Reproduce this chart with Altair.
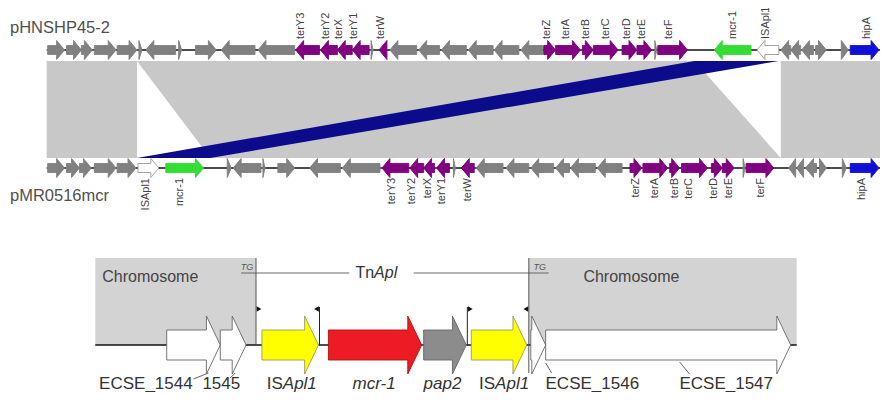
import altair as alt
import pandas as pd

# ---------------- upper comparison: plasmid maps (map units) ----------------
top_name = "pHNSHP45-2"
bot_name = "pMR0516mcr"

top_start = [48, 67, 82, 95, 118, 140, 147, 180, 197, 223, 260, 298, 323, 340, 355, 374, 382,
             393, 422, 445, 472, 498, 525, 548, 560, 587, 598, 627, 642, 660, 663, 720, 763,
             787, 797, 808, 822, 848, 857]
top_end = [65, 82, 93, 117, 138, 143, 177, 183, 218, 257, 297, 322, 340, 355, 372, 376, 390,
           420, 443, 470, 497, 523, 547, 560, 585, 598, 623, 642, 657, 662, 693, 757, 785,
           797, 807, 820, 833, 855, 886]
top_strand = [1, 1, 1, 1, 1, 1, -1, 1, 1, -1, -1, -1, -1, -1, -1, 1, -1,
              -1, -1, -1, -1, -1, -1, 1, 1, 1, 1, 1, 1, 1, 1, -1, -1,
              -1, -1, -1, 1, 1, 1]
top_type = (["o"] * 11 + ["ter"] * 4 + ["o", "ter"] + ["o"] * 6 + ["ter"] * 6
            + ["o", "ter", "mcr", "is"] + ["o"] * 5 + ["hip"])
top_labels = ["terY3", "terY2", "terX", "terY1", "terW", "terZ", "terA", "terB", "terC",
              "terD", "terE", "terF", "mcr-1", "ISApl1", "hipA"]
top_label_pos = [303, 329, 342, 357, 384, 551, 570, 591, 611, 632, 647, 674, 739, 772, 874]

bot_start = [48, 67, 80, 95, 118, 139, 167, 229, 235, 265, 280, 312, 345, 385, 413, 427, 440,
             457, 465, 480, 510, 535, 560, 575, 602, 635, 648, 675, 687, 717, 728, 749, 752,
             795, 803, 812, 826, 849, 857]
bot_end = [65, 80, 92, 117, 137, 160, 205, 233, 263, 267, 297, 343, 383, 412, 427, 438, 453,
           459, 478, 507, 533, 558, 574, 600, 627, 647, 673, 685, 713, 728, 740, 751, 780,
           802, 810, 823, 833, 853, 886]
bot_strand = [1, 1, 1, 1, 1, 1, 1, 1, -1, 1, 1, -1, -1, -1, -1, -1, -1,
              1, -1, -1, -1, -1, -1, -1, -1, 1, 1, 1, 1, 1, 1, 1, 1,
              -1, -1, -1, 1, 1, 1]
bot_type = (["o"] * 5 + ["is", "mcr"] + ["o"] * 6 + ["ter"] * 4 + ["o", "ter"] + ["o"] * 6
            + ["ter"] * 6 + ["o", "ter"] + ["o"] * 5 + ["hip"])
bot_labels = ["ISApl1", "mcr-1", "terY3", "terY2", "terX", "terY1", "terW", "terZ", "terA",
              "terB", "terC", "terD", "terE", "terF", "hipA"]
bot_label_pos = [147, 181, 395, 415, 431, 445, 472, 641, 660, 680, 694, 720, 735, 767, 869]

# homologous blocks: (top from, top to) -> (bottom from, bottom to)
blk_top_a = [47, 138, 700, 787]
blk_top_b = [138, 700, 785, 888]
blk_bot_a = [47, 212, 212, 787]
blk_bot_b = [138, 787, 138, 888]
blk_kind = ["same", "same", "inverted", "same"]

# ---------------- lower schematic: TnApl insertion ----------------
chrom_start = [96, 533]
chrom_end = [258, 803]
ins_names = ["ECSE_1544", "ECSE_1545", "ISApl1", "mcr-1", "pap2", "ISApl1", "ECSE_1546", "ECSE_1547"]
ins_start = [168, 222, 264, 331, 427, 475, 535, 550]
ins_end = [222, 248, 321, 425, 470, 531, 550, 797]
ins_kind = ["chrom", "chrom", "is", "mcr", "pap", "is", "chrom", "chrom"]
ir_pos = [258, 322, 471, 533]
ir_dir = [1, -1, 1, -1]

# ---------------- styling / layout constants ----------------
W, H = 872, 384
Y_TOP, Y_BOT, Y_INS = 50, 168, 345
BAND_T, BAND_B = 61, 158
FILL = {"o": "#808080", "ter": "#800080", "mcr": "#33dd33", "is": "#ffffff", "hip": "#1010d8"}
FONT = "Liberation Sans"
EPS = 0.01

xs = alt.Scale(domain=[8, 887], nice=False, zero=False)
ys = alt.Scale(domain=[8, 8 + H], nice=False, zero=False, reverse=True)


def X(f, **kw):
    return alt.X(f, type="quantitative", scale=xs, axis=None, **kw)


def Y(f, **kw):
    return alt.Y(f, type="quantitative", scale=ys, axis=None, **kw)


def arrow_rows(gid, s, e, strand, yc, bh, hh, hl, fill, stroke):
    h = min(hl, e - s)
    if strand > 0:
        pts = [(s, yc - bh, yc + bh), (e - h, yc - bh, yc + bh),
               (e - h + EPS, yc - hh, yc + hh), (e, yc, yc)]
    else:
        pts = [(s, yc, yc), (s + h - EPS, yc - hh, yc + hh),
               (s + h, yc - bh, yc + bh), (e, yc - bh, yc + bh)]
    if pts[0][0] >= pts[1][0]:
        pts = pts[1:] if strand > 0 else [pts[0], pts[1]] + pts[3:]
    return [dict(gid=gid, x=p[0], y=p[1], y2=p[2], fill=fill, stroke=stroke) for p in pts]


rows = []
for i, (s, e, st, t) in enumerate(zip(top_start, top_end, top_strand, top_type)):
    rows += arrow_rows(f"t{i}", s, e, st, Y_TOP, 4.5, 9.5, 8, FILL[t], "#999999" if t == "is" else FILL[t])
for i, (s, e, st, t) in enumerate(zip(bot_start, bot_end, bot_strand, bot_type)):
    rows += arrow_rows(f"b{i}", s, e, st, Y_BOT, 4.5, 9.5, 8, FILL[t], "#999999" if t == "is" else FILL[t])
ins_fill = {"chrom": "#ffffff", "is": "#ffff00", "mcr": "#ed1c24", "pap": "#8c8c8c"}
ins_stroke = {"chrom": "#666666", "is": "#9a9a60", "mcr": "#b01010", "pap": "#666666"}
for i, (s, e, k) in enumerate(zip(ins_start, ins_end, ins_kind)):
    rows += arrow_rows(f"i{i}", s, e, 1, Y_INS, 15, 29, 14, ins_fill[k], ins_stroke[k])
arrows_df = pd.DataFrame(rows)

band_rows = []
for i, (ta, tb, ba, bb, kd) in enumerate(zip(blk_top_a, blk_top_b, blk_bot_a, blk_bot_b, blk_kind)):
    col = "#0b0b8c" if kd == "inverted" else "#c8c8c8"
    if kd == "inverted":
        band_rows.append(dict(poly=f"p{i}", y=BAND_T, x=tb, x2=ta, fill=col))
        band_rows.append(dict(poly=f"p{i}", y=BAND_B, x=ba, x2=bb, fill=col))
    else:
        band_rows.append(dict(poly=f"p{i}", y=BAND_T, x=ta, x2=tb, fill=col))
        band_rows.append(dict(poly=f"p{i}", y=BAND_B, x=ba, x2=bb, fill=col))
band_df = pd.DataFrame(band_rows)

band = alt.Chart(band_df).mark_area(orient="horizontal").encode(
    y=Y("y"), x=X("x", stack=None), x2="x2", detail="poly:N",
    fill=alt.Fill("fill:N", scale=None))

backbone_df = pd.DataFrame([
    dict(x=min(top_start) - 1, x2=max(top_end) + 1, y=Y_TOP),
    dict(x=min(bot_start) - 1, x2=max(bot_end) + 1, y=Y_BOT),
    dict(x=chrom_start[0], x2=chrom_end[-1], y=Y_INS),
])
backbone = alt.Chart(backbone_df).mark_rule(strokeWidth=1.5, color="#111111").encode(
    x=X("x"), x2="x2", y=Y("y"))

chrom_df = pd.DataFrame(dict(x=chrom_start, x2=chrom_end, y=[258, 258], y2=[Y_INS, Y_INS]))
chrom = alt.Chart(chrom_df).mark_rect(color="#d3d3d3").encode(x=X("x"), x2="x2", y=Y("y"), y2="y2")

arrows = alt.Chart(arrows_df).mark_area(orient="vertical", strokeWidth=0.9).encode(
    x=X("x"), y=Y("y", stack=None), y2="y2", detail="gid:N",
    fill=alt.Fill("fill:N", scale=None), stroke=alt.Stroke("stroke:N", scale=None))

# gene labels on plasmid maps
tl = pd.DataFrame(dict(x=top_label_pos, y=[39] * len(top_labels), t=top_labels))
bl = pd.DataFrame(dict(x=bot_label_pos, y=[178] * len(bot_labels), t=bot_labels))
top_lab = alt.Chart(tl).mark_text(angle=270, align="left", baseline="middle", fontSize=11,
                                  font=FONT, color="#444444").encode(x=X("x"), y=Y("y"), text="t:N")
bot_lab = alt.Chart(bl).mark_text(angle=270, align="right", baseline="middle", fontSize=11,
                                  font=FONT, color="#444444").encode(x=X("x"), y=Y("y"), text="t:N")

names_df = pd.DataFrame(dict(x=[10, 10], y=[33, 201], t=[top_name, bot_name]))
names = alt.Chart(names_df).mark_text(align="left", baseline="alphabetic", fontSize=16.5, font=FONT,
                                      color="#505050").encode(x=X("x"), y=Y("y"), text="t:N")

# lower schematic lines
vlines_df = pd.DataFrame(dict(x=[258, 533, 322, 471], y=[258, 258, 307, 307], y2=[Y_INS, 373, Y_INS, Y_INS],
                              c=["#555555", "#555555", "#222222", "#222222"]))
vlines = alt.Chart(vlines_df).mark_rule(strokeWidth=1).encode(
    x=X("x"), y=Y("y"), y2="y2", color=alt.Color("c:N", scale=None))

tn_df = pd.DataFrame(dict(x=[243, 417], x2=[352, 553], y=[273, 273]))
tn_line = alt.Chart(tn_df).mark_rule(strokeWidth=1, color="#666666").encode(x=X("x"), x2="x2", y=Y("y"))

flag_df = pd.DataFrame(dict(x=ir_pos, d=ir_dir, y=[309] * 4))
flag_r = alt.Chart(flag_df[flag_df.d > 0]).mark_point(shape="triangle-right", filled=True, size=30,
                                                       color="#111111", opacity=1, xOffset=3).encode(x=X("x"), y=Y("y"))
flag_l = alt.Chart(flag_df[flag_df.d < 0]).mark_point(shape="triangle-left", filled=True, size=30,
                                                       color="#111111", opacity=1, xOffset=-3).encode(x=X("x"), y=Y("y"))

lead_df = pd.DataFrame(dict(x=[210, 237, 550, 685], y=[373, 373, 363, 362], x2=[195, 232, 556, 695], y2=[379, 378, 373, 374]))
leaders = alt.Chart(lead_df).mark_rule(strokeWidth=1, color="#666666").encode(x=X("x"), y=Y("y"), x2="x2", y2="y2")

# lower schematic texts
chrom_txt_df = pd.DataFrame(dict(x=[103, 588], y=[277, 277], t=["Chromosome", "Chromosome"]))
chrom_txt = alt.Chart(chrom_txt_df).mark_text(align="left", baseline="middle", fontSize=16, font=FONT,
                                              color="#444444").encode(x=X("x"), y=Y("y"), text="t:N")
tg_df = pd.DataFrame(dict(x=[249, 544], y=[270, 270], t=["TG", "TG"]))
tg_txt = alt.Chart(tg_df).mark_text(align="center", baseline="alphabetic", fontSize=9, fontStyle="italic",
                                    font=FONT, color="#555555").encode(x=X("x"), y=Y("y"), text="t:N")
tn_a = alt.Chart(pd.DataFrame(dict(x=[377], y=[273], t=["Tn"]))).mark_text(
    align="right", baseline="middle", fontSize=16, font=FONT, color="#333333").encode(x=X("x"), y=Y("y"), text="t:N")
tn_b = alt.Chart(pd.DataFrame(dict(x=[377], y=[273], t=["Apl"]))).mark_text(
    align="left", baseline="middle", fontSize=16, fontStyle="italic", font=FONT, color="#333333").encode(
    x=X("x"), y=Y("y"), text="t:N")

LAB_Y = 389
lab_plain = pd.DataFrame(dict(x=[147, 223, 597, 732], y=[LAB_Y] * 4, t=["ECSE_1544", "1545", "ECSE_1546", "ECSE_1547"]))
lab_is = pd.DataFrame(dict(x=[285, 499], y=[LAB_Y] * 2, t=["IS", "IS"]))
lab_apl = pd.DataFrame(dict(x=[285, 499], y=[LAB_Y] * 2, t=["Apl1", "Apl1"]))
lab_it = pd.DataFrame(dict(x=[377, 446], y=[LAB_Y] * 2, t=["mcr-1", "pap2"]))
kw = dict(baseline="alphabetic", fontSize=17, font=FONT, color="#333333")
l1 = alt.Chart(lab_plain).mark_text(align="center", **kw).encode(x=X("x"), y=Y("y"), text="t:N")
l2 = alt.Chart(lab_is).mark_text(align="right", **kw).encode(x=X("x"), y=Y("y"), text="t:N")
l3 = alt.Chart(lab_apl).mark_text(align="left", fontStyle="italic", **kw).encode(x=X("x"), y=Y("y"), text="t:N")
l4 = alt.Chart(lab_it).mark_text(align="center", fontStyle="italic", **kw).encode(x=X("x"), y=Y("y"), text="t:N")

chart = alt.layer(
    band, chrom, backbone, tn_line, vlines, arrows, flag_r, flag_l, leaders,
    top_lab, bot_lab, names, chrom_txt, tg_txt, tn_a, tn_b, l1, l2, l3, l4
).properties(
    width=W, height=H, padding=0, autosize=alt.AutoSizeParams(type="none"), background="white"
).configure_view(stroke=None)

chart.save("out.html", embed_options={"renderer": "svg", "actions": False})
